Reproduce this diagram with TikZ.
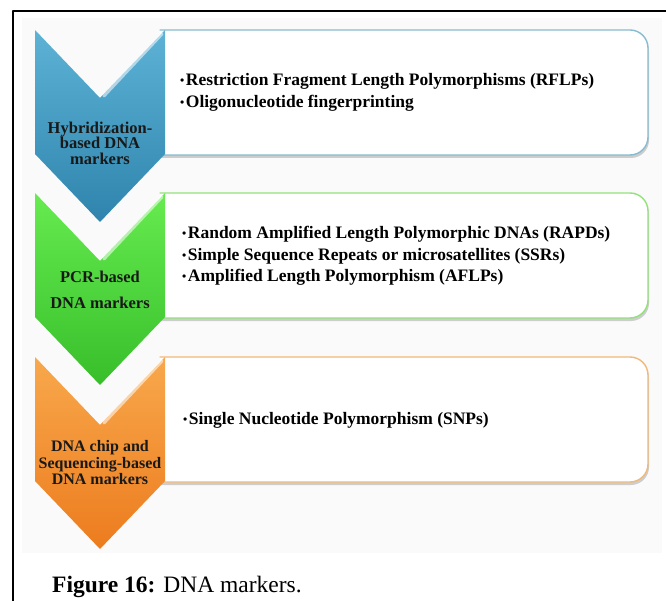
\documentclass[tikz,border=0pt]{standalone}
\usepackage{fontspec}
\setmainfont{Liberation Serif}
\usetikzlibrary{shadows}
\definecolor{hybA}{HTML}{5DB2D6}
\definecolor{hybB}{HTML}{2E84AC}
\definecolor{hybL}{HTML}{86BCCF}
\definecolor{pcrA}{HTML}{66EC50}
\definecolor{pcrB}{HTML}{38BE2A}
\definecolor{pcrL}{HTML}{92E27A}
\definecolor{chipA}{HTML}{F8A84C}
\definecolor{chipB}{HTML}{EC7C1E}
\definecolor{chipL}{HTML}{F2B878}
\newcommand\bul{\raisebox{1pt}{\fontsize{12}{12}\selectfont\textbullet}\hspace{1.5pt}}
\begin{document}
\begin{tikzpicture}[x=1pt, y=-1pt, line join=round, line cap=round,
  lab/.style={font=\bfseries\fontsize{16.5}{15.5}\selectfont, align=center, text=black!90, inner sep=0pt},
  itm/.style={font=\bfseries\fontsize{17.5}{21.5}\selectfont, align=left, anchor=west, inner sep=0pt},
  panel/.style={fill=white, line width=1.4pt, rounded corners=18pt,
    drop shadow={shadow xshift=1pt, shadow yshift=-3pt, opacity=.3, fill=black!60}}]
 \useasboundingbox (0,0) rectangle (666,601);
 \fill[black!2] (22,18) rectangle (662,553);
 \draw[line width=1.3pt, line cap=butt] (666,11) -- (13,11) -- (13,601);
 % boxes and chevrons
 \foreach \t/\cA/\cB/\cL in {30/hybA/hybB/hybL, 193/pcrA/pcrB/pcrL, 357/chipA/chipB/chipL} {
  \draw[panel, draw=\cL] (160,\t) -- (648,\t) -- (648,\t+125) -- (160,\t+125);
  \shade[top color=\cA, bottom color=\cB] (35,\t) -- (100,\t+68) -- (165,\t) -- (165,\t+124)
   -- (100,\t+192) -- (35,\t+124) -- cycle;
  \draw[white, opacity=.55, line width=3pt] (162,\t+4) -- (104,\t+66);
 }
 \node[lab] (hybl) at (100,143) {Hybridization-\\based DNA\\markers};
 \node[lab] (pcrl) at (100,290) {PCR-based\\[10pt]DNA markers};
 \node[lab, font=\bfseries\fontsize{16}{16.5}\selectfont] (chipl) at (100,463) {DNA chip and\\Sequencing-based\\DNA markers};
 \node[itm] (hybt) at (180,92.5) {\bul Restriction Fragment Length Polymorphisms (RFLPs)\\\bul Oligonucleotide fingerprinting};
 \node[itm] (pcrt) at (182,256) {\bul Random Amplified Length Polymorphic DNAs (RAPDs)\\\bul Simple Sequence Repeats or microsatellites (SSRs)\\\bul Amplified Length Polymorphism (AFLPs)};
 \node[itm] (chipt) at (183,420) {\bul Single Nucleotide Polymorphism (SNPs)};
 \node[anchor=base west, inner sep=0pt, font=\fontsize{23.5}{28}\selectfont] (cap) at (52,592) {\textbf{Figure 16:} DNA markers.};
\end{tikzpicture}
\end{document}
